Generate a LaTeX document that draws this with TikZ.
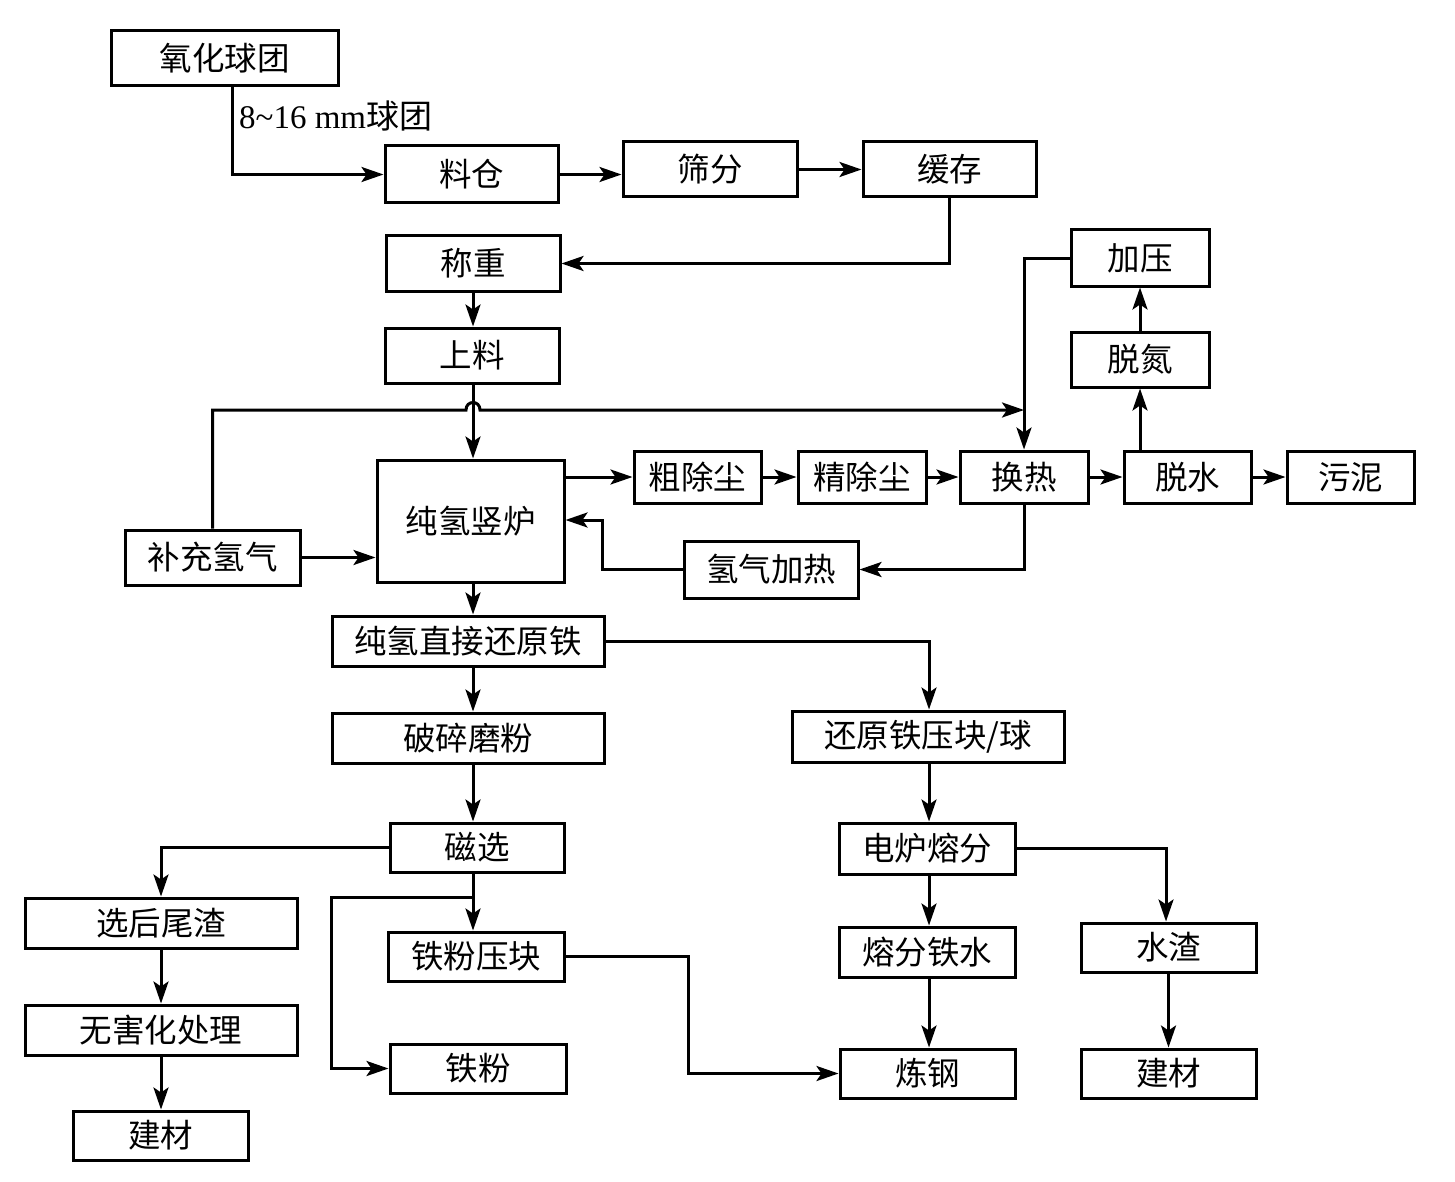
\documentclass[tikz,border=0pt]{standalone}
\usepackage{fontspec}
\setmainfont{Liberation Serif}
\newfontfamily\cjk{Noto Sans CJK SC}
\usetikzlibrary{arrows.meta}
\tikzset{
  box/.style={draw, line width=3pt, inner sep=0pt, font=\cjk\fontsize{32.5}{38}\selectfont},
  arr/.style={line width=3pt, -{Stealth[length=22pt,width=15pt,inset=5pt]}},
}
\newcommand{\bx}[6]{\node[box, minimum width=#4pt, minimum height=#5pt] (#1) at (#2,#3) {#6};}
\begin{document}
\begin{tikzpicture}[x=1pt,y=-1pt]
\useasboundingbox[fill=white] (0,0) rectangle (1455,1182);
\bx{A}{224.5}{58.5}{227}{55}{氧化球团}
\bx{B}{471.5}{174.5}{173}{57}{料仓}
\bx{C}{710}{169.5}{174}{55}{筛分}
\bx{D}{949.5}{169.5}{173}{55}{缓存}
\bx{E}{473}{263.5}{174}{55}{称重}
\bx{F}{472}{355.5}{174}{55}{上料}
\bx{G}{470.5}{521}{187}{122}{纯氢竖炉}
\bx{H}{212.5}{557.5}{175}{55}{补充氢气}
\bx{I}{697.5}{477}{127}{52}{粗除尘}
\bx{J}{862}{477}{128}{52}{精除尘}
\bx{K}{1024}{477}{128}{52}{换热}
\bx{L}{1187.5}{477}{127}{52}{脱水}
\bx{M}{1350.5}{477}{127}{52}{污泥}
\bx{N}{1140}{359.5}{138}{55}{脱氮}
\bx{O}{1140}{258}{138}{56}{加压}
\bx{P}{771}{569.5}{174}{57}{氢气加热}
\bx{Q}{468}{641}{272}{50}{纯氢直接还原铁}
\bx{R}{468}{738}{272}{50}{破碎磨粉}
\bx{S}{928}{736.5}{272}{51}{还原铁压块/球}
\bx{T}{477}{847.5}{174}{49}{磁选}
\bx{U}{927}{848.5}{176}{51}{电炉熔分}
\bx{V}{161}{923}{272}{50}{选后尾渣}
\bx{W}{476}{956.5}{176}{49}{铁粉压块}
\bx{X}{927}{952}{176}{50}{熔分铁水}
\bx{Y}{1168.5}{947.5}{175}{49}{水渣}
\bx{Z}{161}{1030}{272}{50}{无害化处理}
\bx{AA}{478}{1068.5}{176}{49}{铁粉}
\bx{AB}{927.5}{1073.5}{175}{49}{炼钢}
\bx{AC}{160.5}{1135.5}{175}{49}{建材}
\bx{AD}{1168.5}{1073.5}{175}{49}{建材}
\node[anchor=west, inner sep=0pt, font=\fontsize{33}{38}\selectfont] (lab) at (239,116) {8\textasciitilde16 mm{\cjk 球团}};
% helper coordinates
\coordinate (cx) at (473,0);
\coordinate (rx) at (929,0);
\coordinate (hy) at (0,410);
\coordinate (pk) at (602,520);
\coordinate (br) at (473,897);
\coordinate (bl) at (331,897);
\coordinate (wx) at (688,0);
% connectors
\draw[arr] ([xshift=7.5pt]A.south) |- (B.west);
\draw[arr] (B.east) -- (B.east -| C.west);
\draw[arr] (C.east) -- (D.west);
\draw[arr] (D.south) |- (E.east);
\draw[arr] (cx |- E.south) -- (cx |- F.north);
\draw[arr] (cx |- F.south) -- (cx |- G.north);
\draw[arr] (H.north) |- ([xshift=-7pt]cx |- hy) .. controls +(0,-10) and +(0,-10) .. ([xshift=7pt]cx |- hy) -- (K.north |- hy);
\draw[arr] (O.west) -| (K.north);
\draw[arr] (H.east) -- (H.east -| G.west);
\draw[arr] (G.east |- I.west) -- (I.west);
\draw[arr] (I.east) -- (J.west);
\draw[arr] (J.east) -- (K.west);
\draw[arr] (K.east) -- (L.west);
\draw[arr] (L.east) -- (M.west);
\draw[arr] (N.south |- L.north) -- (N.south);
\draw[arr] (N.north) -- (O.south);
\draw[arr] (K.south) |- (P.east);
\draw[arr] (P.west) -| (pk) -- (pk -| G.east);
\draw[arr] (cx |- G.south) -- (cx |- Q.north);
\draw[arr] (Q.east) -| (rx |- S.north);
\draw[arr] (cx |- Q.south) -- (cx |- R.north);
\draw[arr] (cx |- R.south) -- (cx |- T.north);
\draw[arr] (T.west) -| (V.north);
\draw[arr] (cx |- T.south) -- (cx |- W.north);
\draw[arr] (br) -- (bl) |- (AA.west);
\draw[arr] (W.east) -- (W.east -| wx) |- (AB.west);
\draw[arr] (rx |- S.south) -- (rx |- U.north);
\draw[arr] (rx |- U.south) -- (rx |- X.north);
\draw[arr] (rx |- X.south) -- (rx |- AB.north);
\draw[arr] (U.east) -| ([xshift=-2.5pt]Y.north);
\draw[arr] (Y.south) -- (AD.north);
\draw[arr] (V.south) -- (Z.north);
\draw[arr] (Z.south) -- (Z.south |- AC.north);
\end{tikzpicture}
\end{document}
